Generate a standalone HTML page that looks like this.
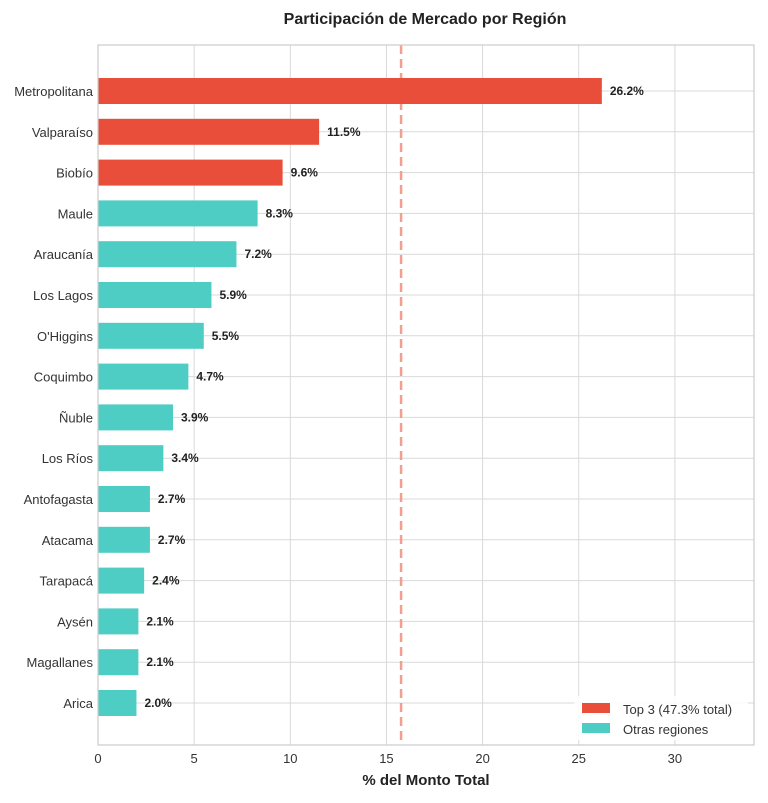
<!DOCTYPE html>
<html><head><meta charset="utf-8"><style>
body{margin:0;background:#fff;}
svg text{font-family:"Liberation Sans",Arial,sans-serif;}
</style></head><body>
<svg id="c" width="768" height="798" xmlns="http://www.w3.org/2000/svg">
<text x="425" y="24" text-anchor="middle" font-size="16" font-weight="bold" fill="#222">Participación de Mercado por Región</text>
<g id="grid"></g><g id="refl"></g><g id="bars"></g><g id="ticks"></g>
<rect x="98" y="45" width="656" height="700" fill="none" stroke="#ccc" stroke-width="1.2"/>
<text x="426" y="785" text-anchor="middle" font-size="15" font-weight="bold" fill="#222">% del Monto Total</text>
<g>
<rect x="574" y="696" width="174" height="44" fill="#fff" fill-opacity="0.85"/>
<rect x="582" y="703" width="28" height="10" fill="#e84e39"/>
<text x="623" y="714" font-size="13" fill="#333">Top 3 (47.3% total)</text>
<rect x="582" y="723" width="28" height="10" fill="#4ecdc4"/>
<text x="623" y="734" font-size="13" fill="#333">Otras regiones</text>
</g>
</svg>
<script>
const regions=["Metropolitana","Valparaíso","Biobío","Maule","Araucanía","Los Lagos","O'Higgins","Coquimbo","Ñuble","Los Ríos","Antofagasta","Atacama","Tarapacá","Aysén","Magallanes","Arica"];
const shares=[26.2,11.5,9.6,8.3,7.2,5.9,5.5,4.7,3.9,3.4,2.7,2.7,2.4,2.1,2.1,2.0];
const xTicks=[0,5,10,15,20,25,30];
const meanLine=15.76;
const NS="http://www.w3.org/2000/svg";
const x0=98,pxPerUnit=19.23;
const X=v=>x0+v*pxPerUnit;
const Y=i=>91+i*40.8;
function mk(t,a,p){const e=document.createElementNS(NS,t);for(const k in a)e.setAttribute(k,a[k]);p.appendChild(e);return e;}
const grid=document.getElementById('grid'),bars=document.getElementById('bars'),ticks=document.getElementById('ticks'),refl=document.getElementById('refl');
xTicks.forEach(v=>{
  const l=mk('line',{x1:X(v),x2:X(v),y1:45,y2:745,stroke:'#d9d9d9','stroke-width':1},grid);
  
  
  const t=mk('text',{x:X(v),y:763,'text-anchor':'middle','font-size':13,fill:'#333'},ticks);
  t.textContent=v;
  
  
});
regions.forEach((r,i)=>{
  const gl=mk('line',{x1:98,x2:754,y1:Y(i),y2:Y(i),stroke:'#d9d9d9','stroke-width':1},grid);
  
  
  const b=mk('rect',{x:X(0),y:Y(i)-13,width:X(shares[i])-X(0),height:26,fill:i<3?'#e84e39':'#4ecdc4'},bars);
  
  
  const v=mk('text',{x:X(shares[i])+8,y:Y(i)+4,'font-size':12,'font-weight':'bold',fill:'#222'},bars);
  v.textContent=shares[i].toFixed(1)+'%';
  
  
  const t=mk('text',{x:93,y:Y(i)+5,'text-anchor':'end','font-size':13,fill:'#333'},ticks);
  t.textContent=r;
  
  
});
const m=mk('line',{x1:X(meanLine),x2:X(meanLine),y1:45,y2:745,stroke:'#f0a090','stroke-width':2.5,'stroke-dasharray':'9,5'},refl);


</script>
</body></html>
